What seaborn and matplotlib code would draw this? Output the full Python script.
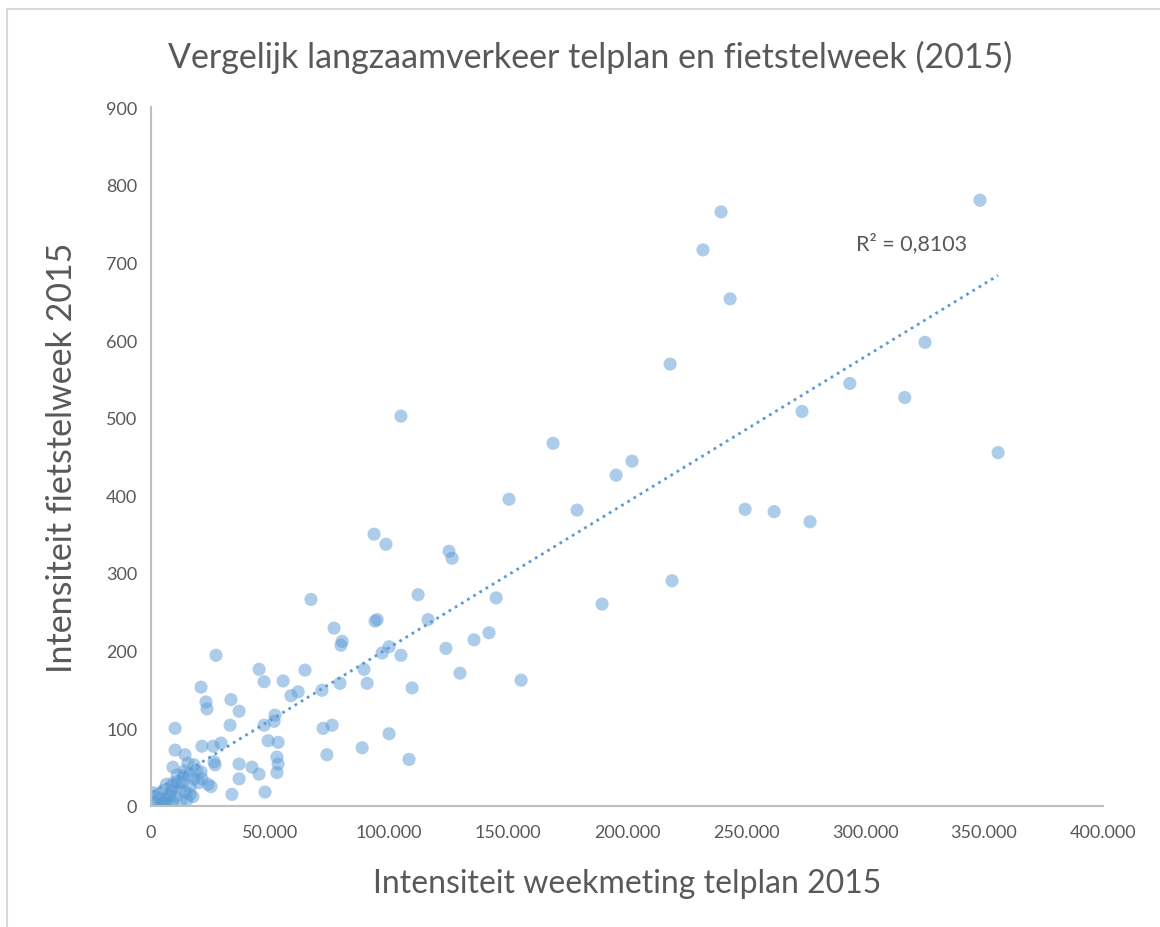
import numpy as np
import pandas as pd
import matplotlib
matplotlib.use("Agg")
import matplotlib.pyplot as plt
from matplotlib.ticker import FuncFormatter, MultipleLocator
from matplotlib.lines import Line2D
import seaborn as sns

# ---- data ----
telplan = [348300, 239500, 231900, 243300, 325200, 218100, 293600, 316700, 273500, 105000,
           168900, 202100, 195400, 355900, 150400, 179000, 249600, 261800, 276900, 93700,
           98700, 125200, 126500, 218900, 112200, 67200, 145000, 189500, 116400, 94100,
           95000, 76900, 142000, 135700, 80300, 79800, 100000, 97100, 123900, 105000,
           27300, 21000, 45400, 64700, 89500, 155500, 55500, 47500, 79400, 90800,
           109700, 129800, 61800, 58800, 71800, 33600, 23100, 23500, 37000, 10100,
           33200, 47500, 51700, 52100, 72300, 76100, 49200, 53400, 100000, 88700,
           73900, 108400, 52900, 53400, 52900, 37000, 42400, 45400, 37000, 34000,
           47900, 10100, 14300, 21400, 26100, 29400, 9200, 15500, 18100, 21000,
           26500, 26900, 23900, 25200, 21400, 13400, 11800, 9200, 16400, 17600,
           8000, 800, 1700, 5900, 2000, 3500, 4500, 6000, 7500, 8500,
           9000, 10500, 12000, 13000, 14500, 15000, 16500, 18000, 5000, 6500,
           11000, 14000, 19000, 7000, 12500, 3000, 9500, 16000, 20000]
fietstelweek = [780, 765, 716, 653, 597, 569, 544, 526, 508, 502,
                467, 444, 426, 455, 395, 381, 382, 379, 366, 350,
                337, 328, 319, 290, 272, 266, 268, 260, 240, 238,
                240, 229, 223, 214, 212, 207, 205, 197, 203, 194,
                194, 153, 176, 175, 176, 162, 161, 160, 158, 158,
                152, 171, 147, 142, 149, 137, 134, 125, 122, 100,
                104, 104, 109, 117, 100, 104, 84, 82, 93, 75,
                66, 60, 63, 54, 43, 54, 50, 41, 35, 15,
                18, 72, 66, 77, 77, 81, 50, 55, 53, 44,
                57, 53, 28, 25, 35, 39, 30, 25, 15, 12,
                13, 17, 3, 3, 5, 10, 3, 8, 14, 20,
                5, 12, 22, 30, 18, 8, 25, 35, 20, 28,
                40, 45, 45, 3, 6, 15, 30, 40, 30]

title = "Vergelijk langzaamverkeer telplan en fietstelweek (2015)"
xlabel = "Intensiteit weekmeting telplan 2015"
ylabel = "Intensiteit fietstelweek 2015"
r2_text = "R² = 0,8103"

df = pd.DataFrame({"telplan": telplan, "fiets": fietstelweek})

# ---- style ----
sns.set_style("white")
plt.rcParams["font.family"] = ["Lato", "DejaVu Sans"]
grey = "#595959"
blue = "#5B9BD5"

fig = plt.figure(figsize=(11.6, 9.28), dpi=100)
ax = fig.add_axes([0.1302, 0.1304, 0.8207, 0.7532])

sns.regplot(data=df, x="telplan", y="fiets", ax=ax, ci=None,
            scatter_kws=dict(s=90, color=blue, alpha=0.5, edgecolor="none", linewidths=0),
            line_kws=dict(color=blue, linestyle=(0, (1, 1.6)), linewidth=2.0))

ax.set_xlim(0, 400000)
ax.set_ylim(0, 900)
ax.xaxis.set_major_locator(MultipleLocator(50000))
ax.yaxis.set_major_locator(MultipleLocator(100))
ax.xaxis.set_major_formatter(FuncFormatter(lambda v, p: f"{int(v):,}".replace(",", ".")))
ax.tick_params(axis="both", length=0, labelsize=13, labelcolor=grey)
ax.tick_params(axis="x", pad=13)
ax.tick_params(axis="y", pad=10)

for s in ["top", "right"]:
    ax.spines[s].set_visible(False)
for s in ["left", "bottom"]:
    ax.spines[s].set_color("#BFBFBF")
    ax.spines[s].set_linewidth(1.5)

ax.set_xlabel(xlabel, fontsize=23, color=grey)
ax.set_ylabel(ylabel, fontsize=24.5, color=grey)
ax.xaxis.set_label_coords(0.5, -(884 - 807) / 699.0)
ax.xaxis.label.set_va("center")
ax.yaxis.set_label_coords(-(151 - 62) / 952.0, 0.5)
ax.yaxis.label.set_va("center")

fig.text(590 / 1160, 1 - 57 / 928, title, fontsize=24.5, color=grey, ha="center", va="center")

ax.text(319700, 726, r2_text, fontsize=15.5, color=grey, ha="center", va="center")

# chart-area border (top & left visible)
fig.add_artist(Line2D([0.006, 1.0], [0.989, 0.989], transform=fig.transFigure, color="#D9D9D9", lw=1.5))
fig.add_artist(Line2D([0.006, 0.006], [0.0, 0.989], transform=fig.transFigure, color="#D9D9D9", lw=1.5))

fig.savefig("out.png", dpi=100, facecolor="white")
